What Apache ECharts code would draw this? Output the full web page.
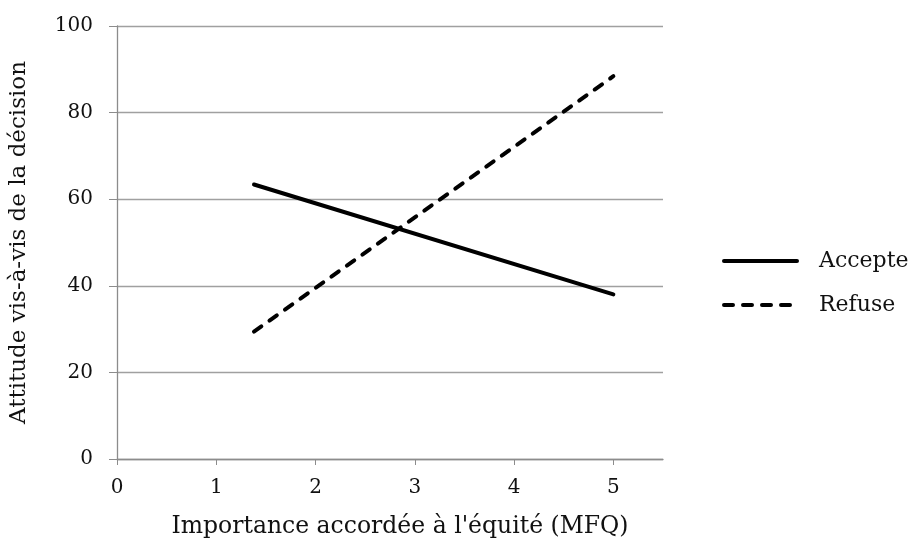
<!DOCTYPE html>
<html><head><meta charset="utf-8">
<script src="https://cdn.jsdelivr.net/npm/echarts@6/dist/echarts.min.js"></script>
<style>html,body{margin:0;padding:0;background:#fff}#c{width:914px;height:538px}</style>
</head><body><div id="c"></div>
<script>
const seriesNames = ['Accepte', 'Refuse'];
const xStartEnd = [1.38, 5];
const accepteValues = [63.4, 38.0];
const refuseValues = [29.4, 88.4];
const xTicks = [0, 1, 2, 3, 4, 5];
const yTicks = [0, 20, 40, 60, 80, 100];
const xTitle = "Importance accordée à l'équité (MFQ)";
const yTitle = 'Attitude vis-à-vis de la décision';

const FONT = 'DejaVu Serif';
const chart = echarts.init(document.getElementById('c'));
const mk = (vals) => xStartEnd.map((x, i) => [x, vals[i]]);
chart.setOption({
  animation: false,
  textStyle: { fontFamily: FONT, color: '#000' },
  grid: { left: 117, right: 251, top: 26, bottom: 79, containLabel: false, outerBoundsMode: 'none' },
  xAxis: {
    type: 'value', min: 0, max: 5.5, interval: 1,
    name: xTitle, nameLocation: 'middle', nameGap: 56,
    nameTextStyle: { fontFamily: FONT, fontSize: 23.5, color: '#111', padding: [0, 0, 0, 20] },
    axisLine: { show: true, lineStyle: { color: '#8c8c8c', width: 1.3 } },
    axisTick: { show: true, length: 6, lineStyle: { color: '#8c8c8c' } },
    axisLabel: { fontFamily: FONT, fontSize: 20, color: '#111', margin: 19, showMaxLabel: false,
      formatter: v => xTicks.includes(v) ? String(v) : '' },
    splitLine: { show: false }
  },
  yAxis: {
    type: 'value', min: 0, max: 100, interval: 20,
    name: yTitle, nameLocation: 'middle', nameGap: 86, nameRotate: 90,
    nameTextStyle: { fontFamily: FONT, fontSize: 23, color: '#111' },
    axisLine: { show: true, lineStyle: { color: '#8c8c8c', width: 1.3 } },
    axisTick: { show: true, length: 8, lineStyle: { color: '#8c8c8c' } },
    axisLabel: { fontFamily: FONT, fontSize: 20, color: '#111', margin: 24,
      formatter: v => yTicks.includes(v) ? String(v) : '' },
    splitLine: { show: true, lineStyle: { color: '#a0a0a0', width: 1.3 } }
  },
  legend: {
    orient: 'vertical', left: 717, top: 245,
    itemWidth: 73, itemHeight: 20, itemGap: 22,
    itemStyle: { opacity: 0 },
    lineStyle: { width: 4, color: '#000' },
    textStyle: { fontFamily: FONT, fontSize: 22, color: '#111', padding: [0, 0, 0, 17] },
    data: seriesNames
  },
  series: [
    { name: seriesNames[0], type: 'line', data: mk(accepteValues), symbol: 'none',
      lineStyle: { color: '#000', width: 4, cap: 'round' }, itemStyle: { color: '#000' } },
    { name: seriesNames[1], type: 'line', data: mk(refuseValues), symbol: 'none',
      lineStyle: { color: '#000', width: 4, type: [9, 10], cap: 'round' }, itemStyle: { color: '#000' } }
  ]
});
</script></body></html>
